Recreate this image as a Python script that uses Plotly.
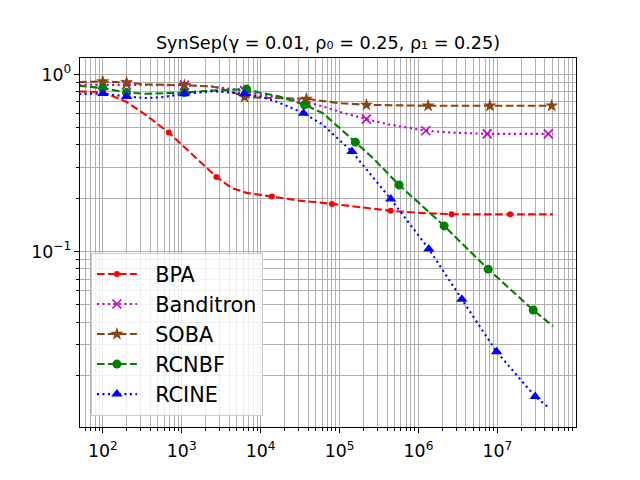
import plotly.graph_objects as go

# ---------------- data ----------------
bpa_x = [50, 100, 200, 353, 684, 1368, 2757, 4271, 6622, 13870, 31200, 80150,
         179800, 444900, 1.04e6, 2.625e6, 6.0e6, 1.454e7, 5.06e7]
bpa_y = [0.802, 0.795, 0.70, 0.59, 0.470, 0.352, 0.264, 0.229, 0.2146, 0.2045,
         0.194, 0.186, 0.179, 0.170, 0.1654, 0.1627, 0.1622, 0.1627, 0.1622]
bpa_marks = [4, 6, 9, 11, 13, 15, 17]

ban_x = [50, 100, 200, 353, 1082, 2455, 6250, 9680, 17380, 37900, 61540, 100300,
         218600, 444900, 1.239e6, 2.625e6, 7.425e6, 4.415e7, 5.06e7]
ban_y = [0.875, 0.875, 0.875, 0.872, 0.870, 0.855, 0.81, 0.77, 0.74, 0.70, 0.66,
         0.615, 0.560, 0.52, 0.481, 0.470, 0.462, 0.462, 0.462]
ban_marks = [1, 2, 4, 6, 9, 12, 14, 16, 17]

soba_x = [50, 100, 200, 353, 1082, 2455, 4271, 6250, 9680, 17380, 37900, 100300,
          218600, 1.325e6, 8.03e6, 4.876e7, 5.06e7]
soba_y = [0.906, 0.913, 0.901, 0.878, 0.870, 0.855, 0.80, 0.745, 0.74, 0.736,
          0.729, 0.689, 0.674, 0.666, 0.666, 0.666, 0.666]
soba_marks = [1, 2, 4, 7, 10, 12, 13, 14, 15]

rcnbf_x = [50, 100, 200, 353, 1082, 2455, 6622, 9680, 17380, 36060, 61540, 110400,
           158600, 265400, 567500, 2.115e6, 7.64e6, 2.844e7, 5.06e7]
rcnbf_y = [0.863, 0.838, 0.791, 0.778, 0.791, 0.812, 0.827, 0.791, 0.751, 0.674,
           0.605, 0.476, 0.415, 0.337, 0.238, 0.1397, 0.0796, 0.0468, 0.0380]
rcnbf_marks = [1, 2, 4, 6, 9, 12, 14, 15, 16, 17]

rcine_x = [50, 100, 200, 353, 569, 1082, 2455, 6250, 9680, 15780, 23280, 35010,
           61540, 100300, 143600, 444900, 1.352e6, 3.542e6, 9.77e6, 3.017e7, 4.63e7]
rcine_y = [0.775, 0.78, 0.751, 0.736, 0.745, 0.778, 0.805, 0.778, 0.751, 0.704,
           0.654, 0.605, 0.520, 0.428, 0.367, 0.198, 0.1036, 0.0538, 0.0272,
           0.0152, 0.0130]
rcine_marks = [1, 2, 5, 7, 11, 14, 15, 16, 17, 18, 19]

names = ["BPA", "Banditron", "SOBA", "RCNBF", "RCINE"]
title_text = "SynSep(γ = 0.01, ρ₀ = 0.25, ρ₁ = 0.25)"
y_tick_alias = {"1": "10<sup>0</sup>", "10": "10<sup>1</sup>"}
x_tick_alias = {"1": "10<sup>0</sup>", "10": "10<sup>1</sup>"}

# ---------------- styles ----------------
DASH = "7.7px,3.3px"
DOT = "2.1px,3.4px"
series = [
    (bpa_x, bpa_y, bpa_marks, "#ff0000", DASH, dict(symbol="circle", size=6)),
    (ban_x, ban_y, ban_marks, "#bf00bf", DOT, dict(symbol="x-thin", size=9,
                                                   line=dict(width=1.6, color="#bf00bf"))),
    (soba_x, soba_y, soba_marks, "#8B4513", DASH, dict(symbol="star", size=10)),
    (rcnbf_x, rcnbf_y, rcnbf_marks, "#008000", DASH, dict(symbol="circle", size=9)),
    (rcine_x, rcine_y, rcine_marks, "#0000ff", DOT, dict(symbol="triangle-up", size=10)),
]

fig = go.Figure()
for name, (xs, ys, marks, color, dash, mk) in zip(names, series):
    mk = dict(mk)
    mk.setdefault("color", color)
    if "line" not in mk:
        mk["line"] = dict(width=0)
    fig.add_trace(go.Scatter(x=xs, y=ys, mode="lines", line=dict(color=color, width=2.1, dash=dash),
                             showlegend=False, legendgroup=name, hoverinfo="skip"))
    fig.add_trace(go.Scatter(x=[xs[i] for i in marks], y=[ys[i] for i in marks], mode="markers",
                             marker=mk, showlegend=False, legendgroup=name))
    # legend entry (non-breaking spaces widen the gap between handle and label)
    fig.add_trace(go.Scatter(x=[None], y=[None], mode="lines+markers", name="\u00a0\u00a0" + name,
                             line=dict(color=color, width=2.1, dash=dash), marker=mk,
                             legendgroup=name))

grid = "#b0b0b0"
axis_common = dict(
    type="log", dtick=1, exponentformat="power", showgrid=True, gridcolor=grid, gridwidth=1.1,
    ticks="outside", ticklen=4.9, tickwidth=1.1, tickcolor="black",
    showline=True, linecolor="black", linewidth=1.1, mirror=True, zeroline=False,
    tickfont=dict(size=13.9, color="black"),
    minor=dict(ticks="outside", ticklen=2.8, tickwidth=0.8, tickcolor="black",
               showgrid=True, gridcolor=grid, gridwidth=1.1),
)
fig.update_xaxes(range=[1.711, 7.996], labelalias=x_tick_alias, ticklabelstandoff=4, **axis_common)
fig.update_yaxes(range=[-1.990, 0.093], labelalias=y_tick_alias, ticklabelstandoff=0, **axis_common)

# the page body adds an 8px offset; margins compensate so the plot area sits at
# x 80..576, y 57.6..427.2 in the 640x480 window
fig.update_layout(
    width=640, height=480,
    margin=dict(l=72, r=72, t=49.6, b=60.8),
    paper_bgcolor="white", plot_bgcolor="white",
    font=dict(family="DejaVu Sans", size=13.9, color="black"),
    title=dict(text=title_text, x=0.5, xref="paper", xanchor="center",
               y=1, yref="paper", yanchor="bottom", pad=dict(b=9),
               font=dict(size=17.6, color="black")),
    legend=dict(x=0.022, y=0.03, xanchor="left", yanchor="bottom",
                bgcolor="rgba(255,255,255,0.8)", bordercolor="#cccccc", borderwidth=1,
                font=dict(size=20.8), itemwidth=40, tracegroupgap=0),
    showlegend=True,
)

fig.write_html("out.html")
